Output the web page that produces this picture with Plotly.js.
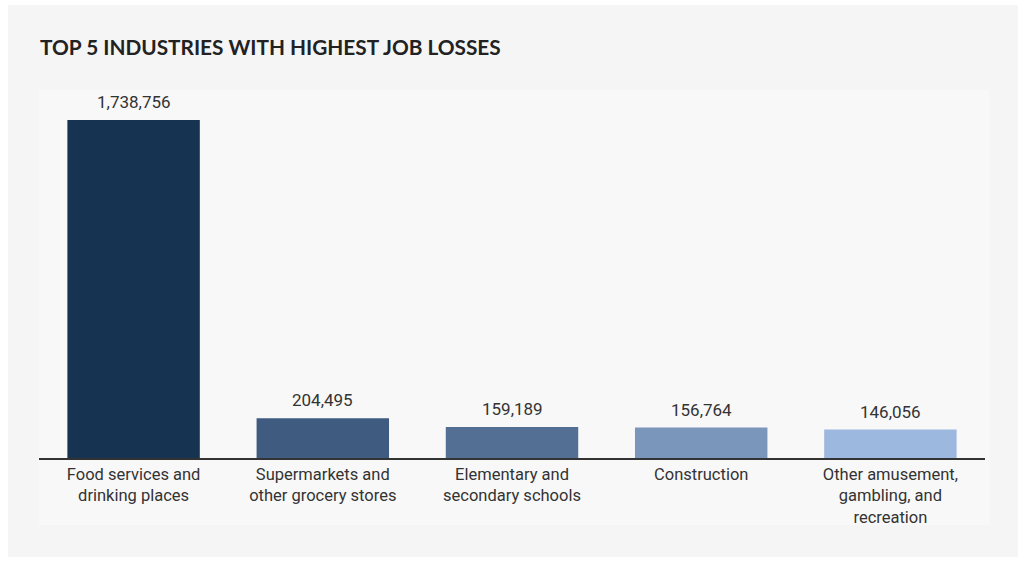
<!DOCTYPE html>
<html>
<head>
<meta charset="utf-8">
<script src="https://cdn.plot.ly/plotly-3.0.1.min.js"></script>
<style>
  html, body { margin: 0; padding: 0; background: #ffffff; }
  #card { position: absolute; left: 8px; top: 5px; width: 1010px; height: 552px; background: #f5f5f5; }
  #chart { width: 1010px; height: 552px; }
</style>
</head>
<body>
<div id="card"><div id="chart"></div></div>
<script>
// industries with the biggest job losses
var industries = [
  'Food services and<br>drinking places',
  'Supermarkets and<br>other grocery stores',
  'Elementary and<br>secondary schools',
  'Construction',
  'Other amusement,<br>gambling, and<br>recreation'
];
var jobsLost = [1738756, 204495, 159189, 156764, 146056];
var barColors = ['#163452', '#3f5b80', '#536f94', '#7b96bb', '#9db8de'];

function drawChart() {
  var trace = {
    type: 'bar',
    x: industries,
    y: jobsLost,
    marker: { color: barColors },
    width: 0.7,
    hoverinfo: 'none'
  };

  // value labels above each bar
  var labels = industries.map(function (name, i) {
    return {
      x: name, y: jobsLost[i],
      xref: 'x', yref: 'y',
      text: jobsLost[i].toLocaleString('en-US'),
      showarrow: false,
      yanchor: 'bottom',
      yshift: 6,
      font: { family: 'Roboto', size: 17, color: '#333333' }
    };
  });

  var layout = {
    width: 1010,
    height: 552,
    margin: { l: 31, r: 33, t: 85, b: 99 },
    paper_bgcolor: '#f5f5f5',
    plot_bgcolor: 'rgba(0,0,0,0)',
    showlegend: false,
    title: {
      text: '<b>TOP 5 INDUSTRIES WITH HIGHEST JOB LOSSES</b>',
      font: { family: 'Lato', size: 20.8, color: '#222222' },
      xref: 'container', x: 32 / 1010, xanchor: 'left',
      yref: 'container', y: 1 - 35 / 552, yanchor: 'top'
    },
    xaxis: {
      showline: true, linecolor: '#333333', linewidth: 2,
      ticks: '', showgrid: false, zeroline: false,
      tickfont: { family: 'Roboto', size: 16.5, color: '#333333' },
      fixedrange: true
    },
    yaxis: {
      range: [0, 1893000],
      visible: false, showgrid: false, zeroline: false,
      fixedrange: true
    },
    annotations: labels,
    shapes: [{
      type: 'rect', layer: 'below',
      xref: 'paper', yref: 'paper',
      x0: 0, x1: 1.005, y0: -0.182, y1: 1,
      fillcolor: '#f8f8f8', line: { width: 0 }
    }]
  };

  Plotly.newPlot('chart', [trace], layout, { displayModeBar: false, staticPlot: true });
}
window.addEventListener('load', drawChart, false);
</script>
</body>
</html>
